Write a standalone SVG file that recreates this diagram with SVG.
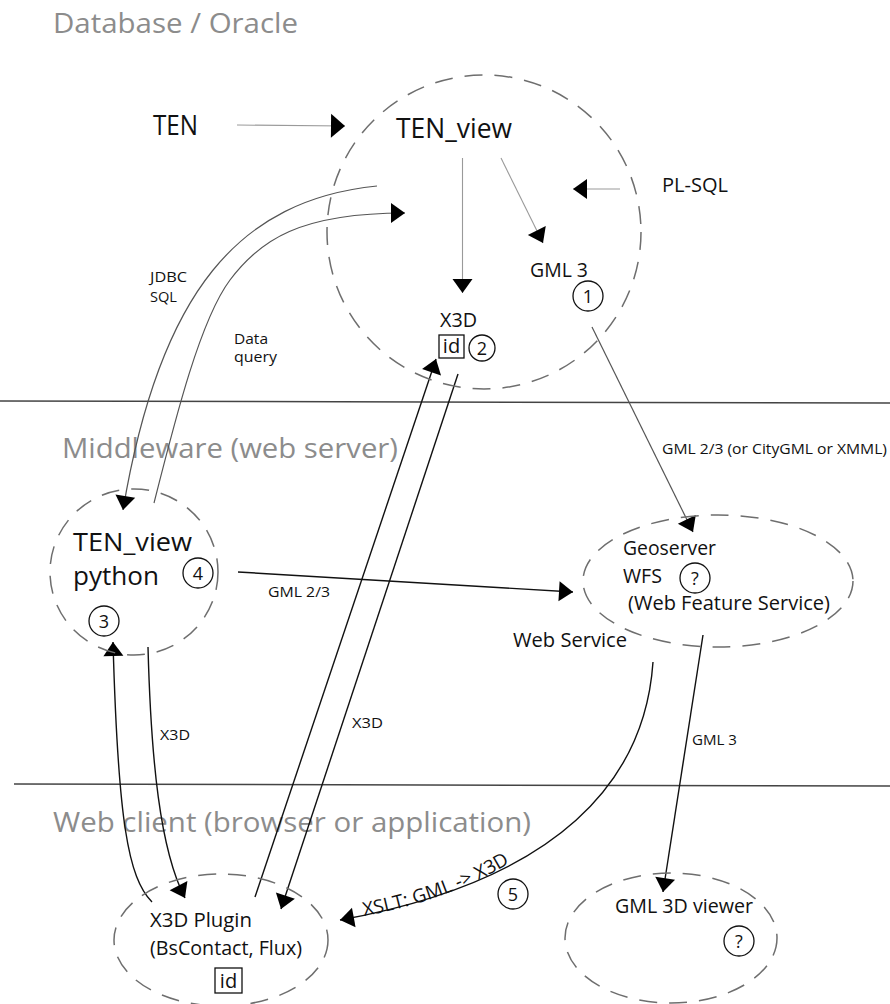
<svg xmlns="http://www.w3.org/2000/svg" width="890" height="1004" viewBox="0 0 890 1004">
<style>
text{font-family:"Open Sans","Liberation Sans",sans-serif;fill:#111}
.title{font-size:28px;fill:#8c8c8c}
.big{font-size:28px}
.pyt{font-size:26px}
.med{font-size:20px}
.sm{font-size:15px}
.num{font-size:18px;text-anchor:middle}
.node{fill:none;stroke:#6e6e6e;stroke-width:1.5;stroke-dasharray:18 12}
.circ{fill:none;stroke:#111;stroke-width:1.3}
.box{fill:none;stroke:#111;stroke-width:1.3}
.sep{stroke:#444;stroke-width:1.5}
.thin{fill:none;stroke:#9a9a9a;stroke-width:1.1}
.mid{fill:none;stroke:#555;stroke-width:1.2}
.blk{fill:none;stroke:#111;stroke-width:1.4}
</style>
<defs>
<marker id="ah" markerUnits="userSpaceOnUse" markerWidth="14" markerHeight="20" refX="14" refY="10" orient="auto" overflow="visible">
<path d="M0,0 L14,10 L0,20 Z" fill="#000"/>
</marker>
<marker id="ahL" markerUnits="userSpaceOnUse" markerWidth="14" markerHeight="24" refX="14" refY="12" orient="auto" overflow="visible">
<path d="M0,0 L14,12 L0,24 Z" fill="#000"/>
</marker>
<path id="xsltPath" d="M364,916 C 420,906 476,886 526,853"/>
</defs>
<rect width="890" height="1004" fill="#fff"/>

<g id="sections">
<line class="sep" x1="0" y1="401" x2="890" y2="403"/>
<line class="sep" x1="14" y1="784" x2="890" y2="786"/>
<text class="title" x="53" y="33" textLength="245" lengthAdjust="spacingAndGlyphs">Database / Oracle</text>
<text class="title" x="62" y="458" textLength="336" lengthAdjust="spacingAndGlyphs">Middleware (web server)</text>
<text class="title" x="53" y="832" textLength="478" lengthAdjust="spacingAndGlyphs">Web client (browser or application)</text>
</g>

<g id="connectors">
<line class="thin" x1="237" y1="125" x2="345" y2="126" marker-end="url(#ahL)"/>
<line class="thin" x1="462.5" y1="158" x2="462.5" y2="293" marker-end="url(#ah)"/>
<line class="thin" x1="501" y1="158" x2="543" y2="243" marker-end="url(#ah)"/>
<line class="thin" x1="620" y1="189" x2="573" y2="189" marker-end="url(#ah)"/>
<path class="mid" d="M377,186 C 240,200 160,290 123,510" marker-end="url(#ah)"/>
<path class="mid" d="M154,503 C 175,420 200,320 230,280 C 260,240 300,213 405,213" marker-end="url(#ah)"/>
<line class="mid" x1="592" y1="327" x2="693" y2="532" marker-end="url(#ah)"/>
<line class="blk" x1="238" y1="572" x2="573" y2="592" marker-end="url(#ah)"/>
<line class="blk" x1="255" y1="897" x2="436" y2="359" marker-end="url(#ah)"/>
<line class="blk" x1="458" y1="374" x2="281" y2="909" marker-end="url(#ah)"/>
<path class="blk" d="M148,647 C 151,760 160,850 185,898" marker-end="url(#ah)"/>
<path class="blk" d="M152,902 C 128,878 118,820 113,642" marker-end="url(#ah)"/>
<path class="blk" d="M653,662 C 645,780 560,880 340,920" marker-end="url(#ah)"/>
<line class="blk" x1="703" y1="635" x2="663" y2="892" marker-end="url(#ah)"/>
<text class="sm" x="150" y="282" textLength="37" lengthAdjust="spacingAndGlyphs">JDBC</text>
<text class="sm" x="150" y="302" textLength="27" lengthAdjust="spacingAndGlyphs">SQL</text>
<text class="sm" x="234" y="344" textLength="34" lengthAdjust="spacingAndGlyphs">Data</text>
<text class="sm" x="234" y="362" textLength="43" lengthAdjust="spacingAndGlyphs">query</text>
<text class="sm" x="662" y="454" textLength="225" lengthAdjust="spacingAndGlyphs">GML 2/3 (or CityGML or XMML)</text>
<text class="sm" x="268" y="597" textLength="62" lengthAdjust="spacingAndGlyphs">GML 2/3</text>
<text class="sm" x="160" y="740" textLength="30" lengthAdjust="spacingAndGlyphs">X3D</text>
<text class="sm" x="352" y="728" textLength="31" lengthAdjust="spacingAndGlyphs">X3D</text>
<text class="sm" x="692" y="745" textLength="45" lengthAdjust="spacingAndGlyphs">GML 3</text>
<text style="font-size:19px"><textPath href="#xsltPath" textLength="156" lengthAdjust="spacingAndGlyphs">XSLT: GML -&gt; X3D</textPath></text>
<circle class="circ" cx="513" cy="894" r="15"/>
<text class="num" x="513" y="900.5">5</text>
</g>

<g id="ten">
<text class="big" x="153" y="135" textLength="45" lengthAdjust="spacingAndGlyphs">TEN</text>
</g>

<g id="plsql">
<text class="med" x="662" y="192" textLength="66" lengthAdjust="spacingAndGlyphs">PL-SQL</text>
</g>

<g id="database">
<ellipse class="node" cx="484" cy="232" rx="157" ry="157"/>
<text class="big" x="396" y="138" textLength="116" lengthAdjust="spacingAndGlyphs">TEN_view</text>
<text class="med" x="530" y="277" textLength="58" lengthAdjust="spacingAndGlyphs">GML 3</text>
<circle class="circ" cx="588" cy="296" r="15"/>
<text class="num" x="588" y="302.5">1</text>
<text class="med" x="440" y="327" textLength="37" lengthAdjust="spacingAndGlyphs">X3D</text>
<rect class="box" x="439" y="335" width="25" height="23"/>
<text class="med" x="451.5" y="353" text-anchor="middle">id</text>
<circle class="circ" cx="482" cy="348" r="13"/>
<text class="num" x="482" y="354.5">2</text>
</g>

<g id="python">
<ellipse class="node" cx="134" cy="572" rx="84" ry="83"/>
<text class="pyt" x="73" y="551" textLength="119" lengthAdjust="spacingAndGlyphs">TEN_view</text>
<text class="pyt" x="73" y="585" textLength="86" lengthAdjust="spacingAndGlyphs">python</text>
<circle class="circ" cx="198" cy="573" r="15"/>
<text class="num" x="198" y="579.5">4</text>
<circle class="circ" cx="104" cy="621" r="15"/>
<text class="num" x="104" y="627.5">3</text>
</g>

<g id="geoserver">
<ellipse class="node" cx="718" cy="581" rx="135" ry="66"/>
<text class="med" x="623" y="555" textLength="93" lengthAdjust="spacingAndGlyphs">Geoserver</text>
<text class="med" x="623" y="583" textLength="39" lengthAdjust="spacingAndGlyphs">WFS</text>
<circle class="circ" cx="695" cy="578" r="15"/>
<text class="num" x="695" y="584.5">?</text>
<text class="med" x="628" y="610" textLength="202" lengthAdjust="spacingAndGlyphs">(Web Feature Service)</text>
<text class="med" x="513" y="647" textLength="114" lengthAdjust="spacingAndGlyphs">Web Service</text>
</g>

<g id="plugin">
<ellipse class="node" cx="221" cy="940" rx="107" ry="66"/>
<text class="med" x="150" y="927" textLength="102" lengthAdjust="spacingAndGlyphs">X3D Plugin</text>
<text class="med" x="150" y="955" textLength="152" lengthAdjust="spacingAndGlyphs">(BsContact, Flux)</text>
<rect class="box" x="215" y="968" width="27" height="25"/>
<text class="med" x="228.5" y="988" text-anchor="middle">id</text>
</g>

<g id="viewer">
<ellipse class="node" cx="671" cy="938" rx="106" ry="65"/>
<text class="med" x="615" y="913" textLength="138" lengthAdjust="spacingAndGlyphs">GML 3D viewer</text>
<circle class="circ" cx="739" cy="941" r="15"/>
<text class="num" x="739" y="947.5">?</text>
</g>
</svg>
